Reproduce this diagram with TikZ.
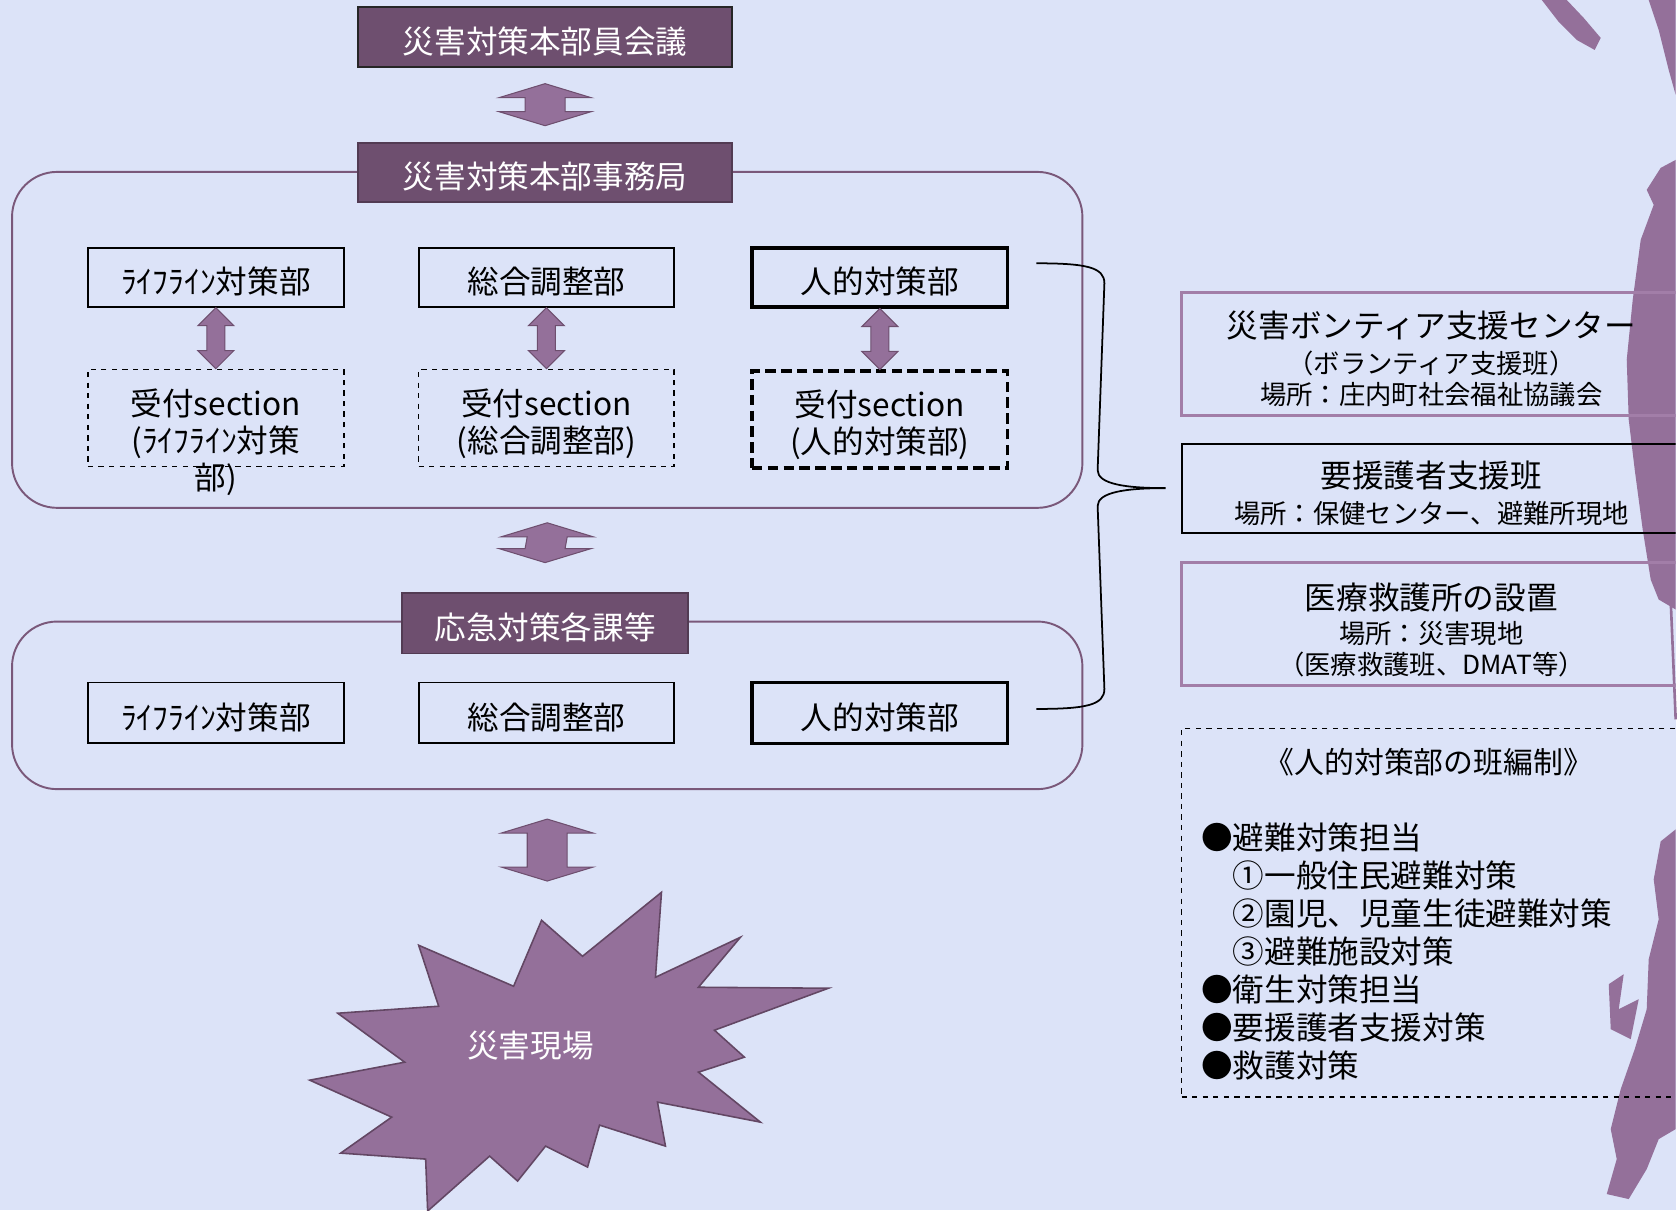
\documentclass[tikz,border=0pt]{standalone}
\usepackage{fontspec}
\setmainfont{Noto Sans CJK JP}
\usetikzlibrary{positioning}
\usetikzlibrary{calc}
\usetikzlibrary{backgrounds, fit}

\definecolor{bgblue}{HTML}{DCE3F8}
\definecolor{darkplum}{HTML}{6E4F6F}
\definecolor{plum}{HTML}{94709A}
\definecolor{lineplum}{HTML}{7A587A}
\definecolor{softplum}{HTML}{A27EA8}

% double block arrow between two tips (upper, lower)
\newcommand{\bigarrow}[2]{%
  \filldraw[fill = plum, draw = darkplum, line width = 0.6pt]
    (#1) -- ($(#1)+(46,14)$) -- ($(#1)+(20,14)$) -- ($(#2)+(20,-14)$)
    -- ($(#2)+(46,-14)$) -- (#2) -- ($(#2)+(-46,-14)$) -- ($(#2)+(-20,-14)$)
    -- ($(#1)+(-20,14)$) -- ($(#1)+(-46,14)$) -- cycle;}
\newcommand{\smallarrow}[2]{%
  \filldraw[fill = plum, draw = darkplum, line width = 0.6pt]
    (#1) -- ($(#1)+(18,18)$) -- ($(#1)+(9,18)$) -- ($(#2)+(9,-18)$)
    -- ($(#2)+(18,-18)$) -- (#2) -- ($(#2)+(-18,-18)$) -- ($(#2)+(-9,-18)$)
    -- ($(#1)+(-9,18)$) -- ($(#1)+(-18,18)$) -- cycle;}

\begin{document}
\begin{tikzpicture}[
            x = 0.02cm, y = -0.02cm, % pixel grid, y downwards
            font = \fontsize{18}{21}\selectfont,
            headbox/.style = {draw = black!85, line width = 1.1pt, fill = darkplum,
                text = white, minimum width = 7.5cm, minimum height = 1.19cm, inner sep = 0pt,
                text height = 18.5pt, text depth = 0pt},
            unitbox/.style = {draw = black, line width = 1.1pt, minimum width = 5.12cm,
                minimum height = 1.18cm, inner sep = 0pt, text height = 18.5pt, text depth = 0pt},
            secbox/.style = {draw = black, dashed, line width = 1pt, minimum width = 5.12cm,
                minimum height = 1.94cm, inner sep = 0pt},
            sectext/.style = {align = center, inner sep = 0pt, anchor = north},
            frame/.style = {draw = lineplum, line width = 1.1pt, rounded corners = 0.9cm, inner sep = 0pt},
            infobox/.style = {draw = softplum, line width = 1.5pt, minimum width = 10cm, inner sep = 0pt},
            infotext/.style = {align = center, inner sep = 0pt, font = \fontsize{15}{17.5}\selectfont},
            burst/.style = {fill = plum, draw = darkplum!90!black, line width = 0.9pt}
        ]

        % page
        \begin{scope}[on background layer]
          \fill[bgblue] (0,0) rectangle (1677,1211);
          % brush strokes along the right edge
          \fill[plum] (1543,0) -- (1568,0) -- (1585,18) -- (1602,38) -- (1596,50) -- (1578,40) -- (1560,22) -- cycle;
          \fill[plum] (1650,0) -- (1677,0) -- (1677,95) -- (1670,70) -- (1660,30) -- cycle;
          \fill[plum] (1677,160) -- (1662,168) -- (1648,190) -- (1655,205) -- (1642,240) -- (1634,300)
            -- (1628,360) -- (1630,420) -- (1636,470) -- (1644,530) -- (1652,580) -- (1660,600) -- (1677,610) -- cycle;
          \draw[plum, line width = 1.5pt] (1672,600) -- (1677,720);
          \fill[plum] (1677,830) -- (1662,842) -- (1655,880) -- (1660,920) -- (1650,960) -- (1648,1010)
            -- (1636,1050) -- (1622,1090) -- (1612,1130) -- (1618,1160) -- (1608,1195) -- (1630,1200)
            -- (1648,1170) -- (1660,1140) -- (1677,1130) -- cycle;
          \fill[plum] (1610,985) -- (1625,975) -- (1620,1010) -- (1640,1000) -- (1632,1040) -- (1612,1030) -- cycle;
        \end{scope}
        \useasboundingbox (0,0) rectangle (1677,1211);
        \clip (0,0) rectangle (1677,1211);

        % headquarters
        \node[headbox] (kaigi) at (545.5,37) {災害対策本部員会議};
        \node[headbox, draw = darkplum!75!black] (jimu) at (545.5,172.5) {災害対策本部事務局};

        \coordinate (a1t) at ($(kaigi.south)+(0,16)$);
        \coordinate (a1b) at ($(jimu.north)+(0,-16)$);
        \bigarrow{a1t}{a1b}

        % departments of the office
        \node[unitbox] (life1) at (216,277.5) {ﾗｲﾌﾗｲﾝ対策部};
        \node[unitbox, right = 1.46cm of life1] (sogo1) {総合調整部};
        \node[unitbox, line width = 2pt, right = 1.5cm of sogo1] (jin1) {人的対策部};

        % reception sections
        \node[secbox, below = 1.22cm of life1] (uke1) {};
        \node[secbox, below = 1.22cm of sogo1] (uke2) {};
        \node[secbox, line width = 2pt, dash pattern = on 6pt off 3pt, below = 1.22cm of jin1] (uke3) {};
        \node[sectext] (uke1t) at ($(uke1.north)+(0,20)$) {受付section\\(ﾗｲﾌﾗｲﾝ対策\\部)};
        \node[sectext] (uke2t) at ($(uke2.north)+(0,20)$) {受付section\\(総合調整部)};
        \node[sectext] (uke3t) at ($(uke3.north)+(0,20)$) {受付section\\(人的対策部)};

        \smallarrow{life1.south}{uke1.north}
        \smallarrow{sogo1.south}{uke2.north}
        \smallarrow{jin1.south}{uke3.north}

        % emergency sections
        \node[headbox, draw = darkplum!75!black, minimum width = 5.74cm, minimum height = 1.22cm] (oukyu)
          at (545.5,623.5) {応急対策各課等};
        \node[unitbox, minimum height = 1.22cm] (life2) at (216,713.5) {ﾗｲﾌﾗｲﾝ対策部};
        \node[unitbox, minimum height = 1.22cm, right = 1.46cm of life2] (sogo2) {総合調整部};
        \node[unitbox, minimum height = 1.22cm, line width = 2pt, right = 1.5cm of sogo2] (jin2) {人的対策部};

        \coordinate (w1a) at ($(life1.north west)+(-75,-75)$);
        \coordinate (w1b) at ($(uke3.south east)+(73,38)$);
        \coordinate (w2a) at ($(life2.north west)+(-75,-60)$);
        \coordinate (w2b) at ($(jin2.south east)+(73,44)$);
        \begin{scope}[on background layer]
          \node[frame, fit = (w1a) (w1b)] (waku1) {};
          \node[frame, fit = (w2a) (w2b)] (waku2) {};
        \end{scope}

        \coordinate (a2t) at ($(waku1.south)+(0,14)$);
        \coordinate (a2b) at ($(oukyu.north)+(0,-29)$);
        \bigarrow{a2t}{a2b}

        % disaster site
        \draw[burst] (419,946) -- (514,987) -- (542,921) -- (583,957) -- (662,893) -- (656,978)
          -- (741,938) -- (699,988) -- (829,989) -- (715,1031) -- (745,1058) -- (699,1073)
          -- (761,1123) -- (658,1103) -- (666,1147) -- (600,1126) -- (588,1168) -- (546,1147)
          -- (518,1182) -- (490,1157) -- (428,1212) -- (426,1160) -- (341,1154) -- (392,1118)
          -- (310,1081) -- (405,1063) -- (338,1014) -- (439,1007) -- cycle;
        \node[text = white] (genba) at (531,1046) {災害現場};

        \coordinate (a3t) at ($(waku2.south)+(0,29)$);
        \coordinate (a3b) at ($(waku2.south)+(0,91)$);
        \bigarrow{a3t}{a3b}

        % support teams
        \node[infobox, minimum height = 2.46cm] (volun) at (1432.5,354.5) {};
        \node[infotext] (volunt) at ($(volun.center)+(0,5)$)
          {{\fontsize{18}{21}\selectfont 災害ボンティア支援センター}\\[3pt]（ボランティア支援班）\\場所：庄内町社会福祉協議会};
        \node[infobox, draw = black, line width = 1.2pt, minimum height = 1.78cm] (shien) at (1432.5,488.5) {};
        \node[infotext] (shient) at ($(shien.center)+(0,5)$)
          {{\fontsize{18}{21}\selectfont 要援護者支援班}\\[3pt]場所：保健センター、避難所現地};
        \node[infobox, minimum height = 2.46cm] (iryo) at (1432.5,624.5) {};
        \node[infotext] (iryot) at ($(iryo.center)+(0,6)$)
          {{\fontsize{18}{21}\selectfont 医療救護所の設置}\\[2pt]場所：災害現地\\（医療救護班、DMAT等）};

        % brace from the human resources departments
        \coordinate (brT) at ($(jin1.east)+(27,-14)$);
        \coordinate (brB) at ($(jin2.east)+(27,-4)$);
        \coordinate (brM) at ($(shien.west)+(-15,0)$);
        \draw[line width = 1pt] (brT) .. controls ($(brT)+(50,0)$) and ($(brT)+(68,4)$) .. ($(brT)+(68,20)$)
          -- ($(brM)+(-68,-18)$) .. controls ($(brM)+(-68,-4)$) and ($(brM)+(-40,0)$) .. (brM)
          .. controls ($(brM)+(-40,0)$) and ($(brM)+(-68,4)$) .. ($(brM)+(-68,18)$)
          -- ($(brB)+(68,-20)$) .. controls ($(brB)+(68,-4)$) and ($(brB)+(50,0)$) .. (brB);

        % team layout
        \node[draw = black, dashed, line width = 0.8pt, minimum width = 10cm, minimum height = 7.38cm,
          inner sep = 0pt] (han) at (1432.5,913.5) {};
        \node[font = \fontsize{17}{20}\selectfont, inner sep = 0pt] (hantitle) at (1430,763) {《人的対策部の班編制》};
        \node[anchor = north west, align = left, inner sep = 0pt, font = \fontsize{18}{21.6}\selectfont]
          (hanlist) at ($(han.north west)+(20,95)$)
          {●避難対策担当\\　①一般住民避難対策\\　②園児、児童生徒避難対策\\　③避難施設対策\\●衛生対策担当\\●要援護者支援対策\\●救護対策};

\end{tikzpicture}
\end{document}
